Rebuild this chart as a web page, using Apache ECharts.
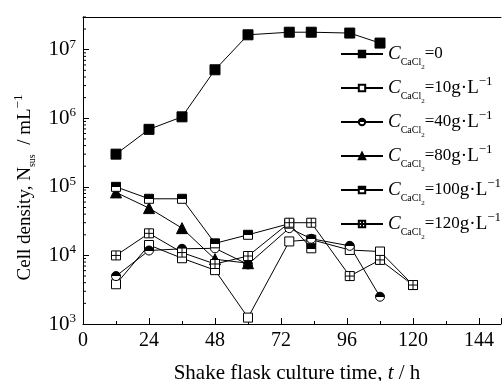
<!DOCTYPE html>
<html>
<head>
<meta charset="utf-8">
<script src="https://cdn.jsdelivr.net/npm/echarts@6/dist/echarts.min.js"></script>
<style>
html, body { margin: 0; padding: 0; background: #fff; }
#container { width: 502px; height: 381px; }
</style>
</head>
<body>
<div id="container"></div>
<script>
// 取样时间 (h)
var hours = [12, 24, 36, 48, 60, 75, 83, 97, 108, 120];
// 各CaCl2浓度下的细胞密度 (mL^-1)
var c0 = [3.0e5, 6.9e5, 1.05e6, 5.1e6, 1.65e7, 1.8e7, 1.8e7, 1.75e7, 1.25e7];
var c10 = [3.8e3, 1.42e4, 9.1e3, 6.1e3, 1.24e3, 1.6e4, 1.7e4, 1.2e4, 1.14e4, 3.7e3];
var c40 = [5.0e3, 1.18e4, 1.25e4, 1.27e4, 7.4e3, 2.5e4, 1.75e4, 1.38e4, 2.5e3];
var c80 = [8.3e4, 4.9e4, 2.5e4, 8.8e3, 7.7e3];
var c100 = [1.0e5, 6.7e4, 6.7e4, 1.5e4, 2.0e4, 2.9e4, 1.27e4];
var c120 = [1.0e4, 2.1e4, 1.1e4, 7.5e3, 9.8e3, 3.0e4, 3.0e4, 5.0e3, 8.6e3, 3.7e3];
// 图例里的浓度 (g/L)
var doses = ['0', '10', '40', '80', '100', '120'];
// y轴对数次刻度
var minorY = [2e3, 3e3, 4e3, 5e3, 6e3, 7e3, 8e3, 9e3,
    2e4, 3e4, 4e4, 5e4, 6e4, 7e4, 8e4, 9e4,
    2e5, 3e5, 4e5, 5e5, 6e5, 7e5, 8e5, 9e5,
    2e6, 3e6, 4e6, 5e6, 6e6, 7e6, 8e6, 9e6,
    2e7, 3e7];

var font = 'Liberation Serif';
var myChart = echarts.init(document.getElementById('container'));

function pairs(ys) {
    return ys.map(function (v, i) { return [hours[i], v]; });
}

// 上黑下白的填充
function half(stop) {
    return {
        type: 'linear', x: 0, y: 0, x2: 0, y2: 1,
        colorStops: [
            {offset: 0, color: '#000'}, {offset: stop, color: '#000'},
            {offset: stop, color: '#fff'}, {offset: 1, color: '#fff'}
        ]
    };
}

function makeSeries(i, ys, symbol, fill, size) {
    return {
        name: 'C' + doses[i],
        type: 'line',
        data: pairs(ys),
        symbol: symbol,
        symbolSize: size || 9,
        lineStyle: {color: '#000', width: 1},
        itemStyle: {color: fill, borderColor: '#000', borderWidth: 1},
        emphasis: {disabled: true},
        animation: false
    };
}

var crossBox = 'path://M0,0H10V10H0Z M5,0V10 M0,5H10';

var series = [
    makeSeries(0, c0, 'rect', '#000', 10),
    makeSeries(1, c10, 'rect', '#fff'),
    makeSeries(2, c40, 'circle', half(0.5)),
    makeSeries(3, c80, 'triangle', '#000', 11),
    makeSeries(4, c100, 'rect', half(0.55)),
    makeSeries(5, c120, crossBox, '#fff'),
    {
        // y轴次刻度
        type: 'custom',
        silent: true,
        clip: false,
        animation: false,
        data: minorY.map(function (v) { return [0, v]; }),
        renderItem: function (params, api) {
            var p = api.coord([0, api.value(1)]);
            return {
                type: 'line',
                shape: {x1: p[0], y1: p[1], x2: p[0] + 3, y2: p[1]},
                style: {stroke: '#000', lineWidth: 1}
            };
        }
    }
];

var rich = {
    c: {fontFamily: font, fontSize: 19, fontStyle: 'italic', color: '#000'},
    s: {fontFamily: font, fontSize: 10, color: '#000', verticalAlign: 'bottom', padding: [0, 0, 4, 0]},
    s2: {fontFamily: font, fontSize: 7, color: '#000', verticalAlign: 'bottom'},
    n: {fontFamily: font, fontSize: 17, color: '#000'},
    u: {fontFamily: font, fontSize: 19, color: '#000'},
    p: {fontFamily: font, fontSize: 13, color: '#000', verticalAlign: 'top', padding: [4, 0, 0, 0]}
};

var option = {
    backgroundColor: '#fff',
    animation: false,
    grid: {left: 83, top: 17, right: 1, bottom: 57, outerBoundsMode: 'none'},
    legend: {
        orient: 'vertical',
        left: 335,
        top: 32,
        itemWidth: 42,
        itemHeight: 8,
        itemGap: 0,
        selectedMode: false,
        data: doses.map(function (d) { return 'C' + d; }),
        formatter: function (name) {
            var d = name.slice(1);
            var s = '{c|C}{s|CaCl}{s2|2}{n|=' + d + '}';
            if (d !== '0') s += '{u|g·L}{p|−1}';
            return s;
        },
        textStyle: {fontFamily: font, fontSize: 18, color: '#000', lineHeight: 34, rich: rich}
    },
    xAxis: [{
        type: 'value',
        min: 0,
        max: 152,
        interval: 24,
        axisLine: {lineStyle: {color: '#000', width: 1}},
        axisTick: {inside: true, length: 6, lineStyle: {color: '#000'}},
        minorTick: {show: true, splitNumber: 2, length: 3, lineStyle: {color: '#000'}},
        splitLine: {show: false},
        minorSplitLine: {show: false},
        axisLabel: {
            fontFamily: font, fontSize: 20, color: '#000', margin: 7,
            showMaxLabel: false,
            formatter: function (v) { return v % 24 === 0 ? String(v) : ''; }
        },
        name: 'Shake flask culture time, {i|t} / h',
        nameLocation: 'middle',
        nameGap: 39,
        nameTextStyle: {
            fontFamily: font, fontSize: 21, color: '#000', padding: [0, 0, 0, 10],
            rich: {i: {fontFamily: font, fontSize: 21, fontStyle: 'italic', color: '#000'}}
        }
    }, {
        // 上边框
        type: 'value',
        position: 'top',
        min: 0,
        max: 152,
        axisLine: {lineStyle: {color: '#000', width: 1}},
        axisTick: {show: false},
        axisLabel: {show: false},
        splitLine: {show: false}
    }],
    yAxis: {
        type: 'log',
        logBase: 10,
        min: 1000,
        max: 3e7,
        axisLine: {show: true, lineStyle: {color: '#000', width: 1}},
        axisTick: {inside: true, length: 6, lineStyle: {color: '#000'}},
        splitLine: {show: false},
        axisLabel: {
            margin: 7,
            color: '#000',
            formatter: function (v) {
                var e = Math.log10(v);
                if (Math.abs(e - Math.round(e)) > 1e-6) return '';
                return '{b|10}{e|' + Math.round(e) + '}';
            },
            rich: {
                b: {fontFamily: font, fontSize: 21, color: '#000', lineHeight: 24},
                e: {fontFamily: font, fontSize: 13, color: '#000', verticalAlign: 'top'}
            }
        },
        name: 'Cell density, N{sub|sus}  / mL{sup|−1}',
        nameLocation: 'middle',
        nameGap: 44,
        nameTextStyle: {
            fontFamily: font, fontSize: 19, color: '#000', lineHeight: 26,
            padding: [0, 34, 0, 0],
            rich: {
                sub: {fontFamily: font, fontSize: 10, color: '#000', verticalAlign: 'bottom'},
                sup: {fontFamily: font, fontSize: 13, color: '#000', verticalAlign: 'top'}
            }
        }
    },
    series: series
};

myChart.setOption(option, true);
</script>
</body>
</html>
